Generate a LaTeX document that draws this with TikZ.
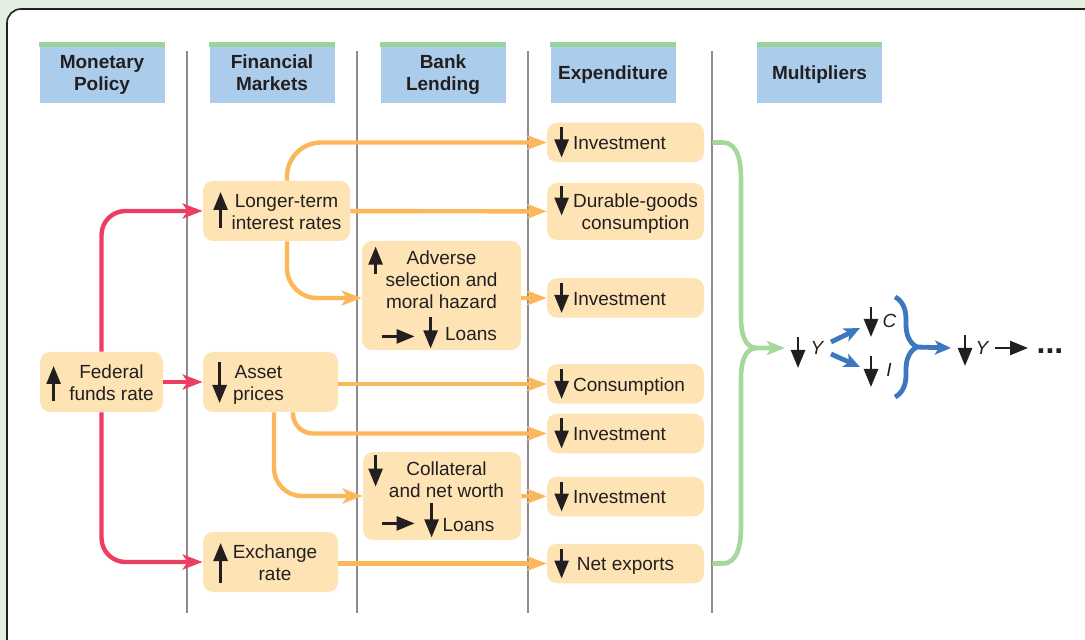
\documentclass[tikz,border=0pt]{standalone}
\usepackage{fontspec}
\setmainfont{Liberation Sans}
\usetikzlibrary{arrows.meta,decorations.pathreplacing}

\definecolor{bggreen}{HTML}{E2F0DF}
\definecolor{headblue}{HTML}{ABCDEB}
\definecolor{headgreen}{HTML}{9BD49A}
\definecolor{boxfill}{HTML}{FEE3B5}
\definecolor{chanline}{HTML}{FDB75B}
\definecolor{polred}{HTML}{EC3E63}
\definecolor{feedgreen}{HTML}{A5D99C}
\definecolor{multblue}{HTML}{3B78C0}
\definecolor{inkdark}{HTML}{231F20}
\definecolor{rulegray}{HTML}{8C8C8C}

\newcommand{\shiftlines}[2]{\hspace*{#1}\raisebox{0pt}[\dimexpr\height+3pt\relax][\depth]{\begin{tabular}{@{}c@{}}#2\end{tabular}}}
\newcommand{\headlines}[1]{\begin{tabular}{@{}c@{}}#1\end{tabular}}

\begin{document}
\begin{tikzpicture}[
    x=0.5pt, y=-0.5pt,
    txt/.style={font=\fontsize{9.5}{11}\selectfont, text=inkdark},
    head/.style={txt, fill=headblue, minimum width=62.5pt, minimum height=27.75pt, inner sep=0pt, font=\fontsize{9.5}{11}\selectfont\bfseries},
    box/.style={txt, fill=boxfill, rounded corners=5pt, inner sep=1pt},
    exp/.style={box, minimum width=78.5pt, minimum height=19.75pt},
    sym/.style={txt, inner sep=0pt, font=\fontsize{9.5}{11}\selectfont\itshape},
    chan/.style={draw=chanline, line width=2.2pt, -{Stealth[length=10pt,width=7.5pt,inset=2.5pt]}},
    policy/.style={chan, draw=polred, rounded corners=12pt},
    feed/.style={draw=feedgreen, line width=2.3pt},
    mult/.style={draw=multblue, line width=2.4pt, -{Stealth[length=8pt,width=7pt,inset=2pt]}},
    sign/.style={draw=inkdark, line width=1.3pt, -{Triangle[length=9pt,width=7pt]}}
  ]
  \useasboundingbox (0,0) rectangle (1085,640);
  \begin{scope}
    \clip (0,0) rectangle (1085,640);
    \fill[bggreen] (0,0) rectangle (1085,640);
    \draw[fill=white, draw=inkdark, line width=0.8pt, rounded corners=7pt] (7,9) rectangle (1120,680);
  \end{scope}

  \foreach \x in {187,357,528,712}
    \draw[rulegray, line width=1pt] (\x,51) -- (\x,613);

  \node[head] (mp) at (102,75.25) {\headlines{Monetary\\Policy}};
  \node[head] (fm) at (272,75.25) {\headlines{Financial\\Markets}};
  \node[head] (bl) at (443,75.25) {\headlines{Bank\\Lending}};
  \node[head] (ex) at (613,75.25) {\headlines{Expenditure}};
  \node[head] (mu) at (819.5,75.25) {\headlines{Multipliers}};
  \foreach \h in {mp,fm,bl,ex,mu}
    \fill[headgreen] (\h.north west) rectangle ([yshift=2.75pt]\h.north east);

  \node[box, minimum width=61.5pt, minimum height=30pt] (ffr) at (101.5,382) {\shiftlines{10pt}{Federal\\funds rate}};
  \node[box, minimum width=73.5pt, minimum height=30pt] (ltr) at (276.5,211) {\shiftlines{10pt}{Longer-term\\interest rates}};
  \node[box, minimum width=67.5pt, minimum height=30pt] (ap) at (270.5,382) {\shiftlines{-12pt}{Asset\\prices}};
  \node[box, minimum width=67.5pt, minimum height=30pt] (exr) at (270.5,562) {\shiftlines{4.5pt}{Exchange\\rate}};
  \node[box, minimum width=79.5pt, minimum height=54.5pt] (adv) at (441.5,295.5) {\shiftlines{0pt}{Adverse\\selection and\\moral hazard\\[5pt]\hspace*{29.5pt}Loans}};
  \node[box, minimum width=79pt, minimum height=44pt] (col) at (442,496) {\shiftlines{4.5pt}{Collateral\\and net worth\\[6pt]\hspace*{22pt}Loans}};

  \node[exp] (inv1) at (625.5,142.5) {\shiftlines{-6pt}{Investment}};
  \node[exp, minimum height=28.5pt] (dur) at (625.5,211.5) {\shiftlines{10pt}{Durable-goods\\consumption}};
  \node[exp] (inv2) at (625.5,298) {\shiftlines{-6pt}{Investment}};
  \node[exp] (con) at (625.5,384) {\shiftlines{3.5pt}{Consumption}};
  \node[exp] (inv3) at (625.5,433.5) {\shiftlines{-6pt}{Investment}};
  \node[exp] (inv4) at (625.5,496.5) {\shiftlines{-6pt}{Investment}};
  \node[exp] (nex) at (625.5,563.5) {\shiftlines{0pt}{Net exports}};

  \draw[sign] ([shift={(14,19)}]ffr.west) -- ++(0,-35);
  \draw[sign] ([shift={(18,17)}]ltr.west) -- ++(0,-36);
  \draw[sign] ([shift={(17,-20)}]ap.west) -- ++(0,41);
  \draw[sign] ([shift={(18,21)}]exr.west) -- ++(0,-40);
  \draw[sign] ([shift={(14,33)}]adv.north west) -- ++(0,-27);
  \draw[sign] ([shift={(20,-14)}]adv.south west) -- ++(33,0);
  \draw[sign] ([shift={(69,-33)}]adv.south west) -- ++(0,31);
  \draw[sign] ([shift={(13,3)}]col.north west) -- ++(0,32);
  \draw[sign] ([shift={(19,-17)}]col.south west) -- ++(33,0);
  \draw[sign] ([shift={(69,-37)}]col.south west) -- ++(0,34);
  \foreach \n in {inv1,inv2,con,inv3,inv4,nex}
    \draw[sign] ([shift={(15,-15)}]\n.west) -- ++(0,30);
  \draw[sign] ([shift={(15,3)}]dur.north west) -- ++(0,30);

  \draw[policy] (ffr.north) |- (ltr.west);
  \draw[policy] (ffr) -- (ap);
  \draw[policy] (ffr.south) |- (exr.west);

  \draw[chan, rounded corners=17pt] ([xshift=5.25pt]ltr.north) |- (inv1.west);
  \draw[chan] (ltr) -- (dur);
  \draw[chan, rounded corners=15pt] ([xshift=5.25pt]ltr.south) |- (adv.west |- inv2.west);
  \draw[chan] (adv.east |- inv2.west) -- (inv2.west);
  \draw[chan] (ap.east |- con.west) -- (con.west);
  \draw[chan, rounded corners=10pt] ([xshift=11.25pt]ap.south) |- (inv3.west);
  \draw[chan, rounded corners=14pt] ([xshift=1.75pt]ap.south) |- (col.west);
  \draw[chan] (col) -- (inv4);
  \draw[chan] (exr.east |- nex.west) -- (nex.west);

  \node[sym] (y1) at (817,348) {Y};
  \node[sym] (cc) at (889.5,321) {C};
  \node[sym] (ii) at (889,370) {I};
  \node[sym] (y2) at (982,348) {Y};
  \node[txt, inner sep=0pt, font=\fontsize{16}{16}\selectfont\bfseries] (dots) at (1050,351) {...};

  \coordinate (gjoin) at (757,348);
  \coordinate (gtip) at ([xshift=-16pt]y1.center);
  \draw[feed, -{Stealth[length=9pt,width=7pt,inset=2pt]}] ([xshift=4pt]inv1.east) -- ++(10,0) to[out=0,in=90] (741,182) -- (741,318) to[out=-90,in=180] (gjoin) -- (gtip);
  \draw[feed] ([xshift=4pt]nex.east) -- ++(10,0) to[out=0,in=-90] (741,526) -- (741,378) to[out=90,in=180] (gjoin);

  \draw[sign] ([shift={(-19,-11)}]y1.center) -- ++(0,31);
  \draw[sign] ([shift={(-18.5,-14)}]cc.center) -- ++(0,30);
  \draw[sign] ([shift={(-18,-14)}]ii.center) -- ++(0,31);
  \draw[sign] ([shift={(-17,-13)}]y2.center) -- ++(0,31);

  \draw[mult] ([shift={(14,-6)}]y1.center) -- ([shift={(-29.5,7)}]cc.center);
  \draw[mult] ([shift={(14,6)}]y1.center) -- ([shift={(-29,-3)}]ii.center);
  \coordinate (btop) at (895,297);
  \coordinate (bbot) at (895,397);
  \coordinate (btip) at (916,347);
  \draw[draw=multblue, line width=2.4pt, decorate, decoration={brace, amplitude=11pt}] (btop) -- (bbot);
  \draw[mult] (btip) -- ([xshift=-15.5pt]y2.center);
  \draw[sign] ([xshift=6.5pt]y2.center) -- ([xshift=23pt]y2.center);
\end{tikzpicture}
\end{document}
